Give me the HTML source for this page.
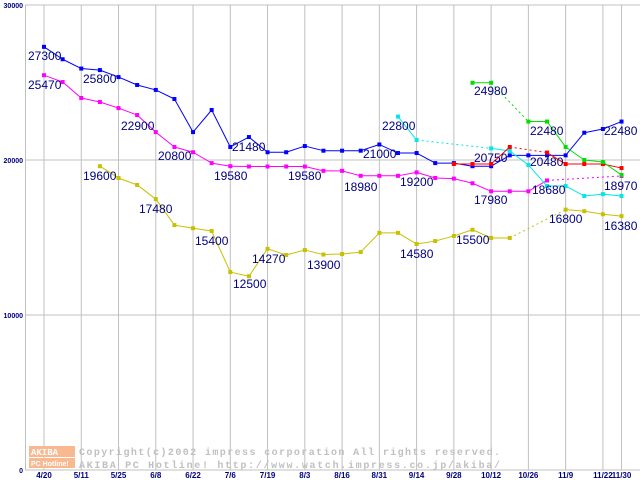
<!DOCTYPE html>
<html><head><meta charset="utf-8"><style>
html,body{margin:0;padding:0;background:#fff;}
svg{display:block;font-family:"Liberation Sans",sans-serif;}
</style></head><body>
<svg id="chart" width="640" height="480" viewBox="0 0 640 480">
<g id="grid"></g>
<g id="axes"></g>
<g id="watermark">
  <rect x="29" y="446" width="46" height="11" fill="#f8b890"/>
  <rect x="29" y="458" width="46" height="10" fill="#f8b890"/>
  <text x="31" y="455" font-size="9" font-weight="bold" fill="#fff" font-family="Liberation Mono,monospace">AKIBA</text>
  <text x="31" y="466" font-size="7" font-weight="bold" fill="#fff">PC Hotline!</text>
  <text x="79" y="455" font-size="10" fill="#c0c0c0" font-family="Liberation Mono,monospace" font-weight="bold" textLength="421" lengthAdjust="spacing">Copyright(c)2002 impress corporation All rights reserved.</text>
  <text x="79" y="468" font-size="10" fill="#c0c0c0" font-family="Liberation Mono,monospace" font-weight="bold" textLength="421" lengthAdjust="spacing">AKIBA PC Hotline!  http://www.watch.impress.co.jp/akiba/</text>
</g>
<g id="series"></g>
<g id="labels"></g>
</svg>
<script>
const xTickLabels = ["4/20","5/11","5/25","6/8","6/22","7/6","7/19","8/3","8/16","8/31","9/14","9/28","10/12","10/26","11/9","11/22","11/30"];
const xTickIndex = [0,2,4,6,8,10,12,14,16,18,20,22,24,26,28,30,31];
const yTicks = [0,10000,20000,30000];
const N = null;
const blueVals = [27300,26500,25900,25800,25350,24840,24520,23935,21800,23226,20840,21480,20500,20500,20900,20600,20600,20600,21000,20450,20450,19800,19800,19600,19600,20300,20300,20300,20300,21760,22000,22480];
const magentaVals = [25470,25030,24000,23740,23350,22900,21800,20840,20500,19800,19600,19580,19580,19580,19580,19300,19300,18980,18980,18980,19200,18840,18800,18500,17980,17980,17980,18680,N,N,N,18970];
const oliveVals = [N,N,N,19600,18840,18390,17480,15800,15600,15420,12770,12500,14270,13870,14190,13900,13935,14060,15300,15300,14580,14770,15100,15500,14970,14970,N,N,16800,16700,16500,16380];
const cyanVals = [N,N,N,N,N,N,N,N,N,N,N,N,N,N,N,N,N,N,N,22800,21290,N,N,N,20750,20580,19680,18320,18320,17680,17800,17680];
const redVals = [N,N,N,N,N,N,N,N,N,N,N,N,N,N,N,N,N,N,N,N,N,N,19740,19740,19740,20840,N,20480,19740,19740,19740,19480];
const greenVals = [N,N,N,N,N,N,N,N,N,N,N,N,N,N,N,N,N,N,N,N,N,N,N,24980,24980,N,22480,22480,20840,20000,19870,19030];
const labelText = ["27300","25470","25800","22900","20800","21480","19600","17480","15400","12500","14270","13900","19580","19580","18980","19200","21000","22800","14580","15500","17980","20750","24980","22480","20480","18680","16800","22480","18970","16380"];
const labelPos = [[28,55],[28,84],[83,78],[121,125],[158,155],[232,146],[83,175],[139,208],[195,240],[233,283],[252,258],[307,264],[214,175],[288,175],[344,186],[400,181],[363,153],[382,125],[400,253],[456,239],[474,199],[474,157],[474,90],[530,130],[530,161],[532,189],[549,218],[604,130],[604,185],[604,225]];

const NS="http://www.w3.org/2000/svg";
const X0=44, DX=18.63, Y0=470, Y30=5;
const xs=i=>X0+i*DX;
const ys=v=>Y0-(v/30000)*(Y0-Y30);
function mk(tag,attrs,parent){const e=document.createElementNS(NS,tag);for(const k in attrs)e.setAttribute(k,attrs[k]);parent.appendChild(e);return e;}
const grid=document.getElementById('grid'), axes=document.getElementById('axes');
xTickIndex.forEach((ti,k)=>{
  const l=mk('line',{x1:xs(ti),x2:xs(ti),y1:Y30,y2:Y0,stroke:'#c0c0c0','stroke-width':1},grid);
  
  
  const t=mk('text',{x:xs(ti),y:478,'font-size':8,'font-weight':'bold',fill:'#000080','text-anchor':'middle'},axes);
  
  
  t.textContent=xTickLabels[k];
});
yTicks.forEach(v=>{
  const l=mk('line',{x1:25,x2:640,y1:ys(v),y2:ys(v),stroke:'#c0c0c0','stroke-width':1},grid);
  
  
  const t=mk('text',{x:23,y:ys(v)+3,'font-size':7,'font-weight':'bold',fill:'#000080','text-anchor':'end'},axes);
  
  
  t.textContent=String(v);
});
const ax=mk('line',{x1:25.5,x2:25.5,y1:Y30,y2:Y0,stroke:'#c0c0c0','stroke-width':1},axes);



const seriesG=document.getElementById('series');
const defs=[["blue-series",blueVals,"#0000ff"],["magenta-series",magentaVals,"#ff00ff"],["olive-series",oliveVals,"#c8c000"],["cyan-series",cyanVals,"#00e8e8"],["red-series",redVals,"#ff0000"],["green-series",greenVals,"#00e000"]];
defs.forEach(([name,vals,col])=>{
  const g=mk('g',{},seriesG);
  
  
  let prev=-1;
  vals.forEach((v,i)=>{
    if(v===null)return;
    if(prev>=0){
      const dashed=(i-prev)>1;
      const l=mk('line',{x1:xs(prev),y1:ys(vals[prev]),x2:xs(i),y2:ys(v),stroke:col,'stroke-width':1},g);
      if(dashed)l.setAttribute('stroke-dasharray','2,3');
      
      
    }
    prev=i;
  });
  vals.forEach((v,i)=>{
    if(v===null)return;
    const r=mk('rect',{x:xs(i)-2,y:ys(v)-2,width:4,height:4,fill:col},g);
    
    
  });
});
const lg=document.getElementById('labels');
labelText.forEach((s,k)=>{
  const t=mk('text',{x:labelPos[k][0],y:labelPos[k][1]+5,'font-size':12,fill:'#000080'},lg);
  
  
  t.textContent=s;
});
</script>
</body></html>
